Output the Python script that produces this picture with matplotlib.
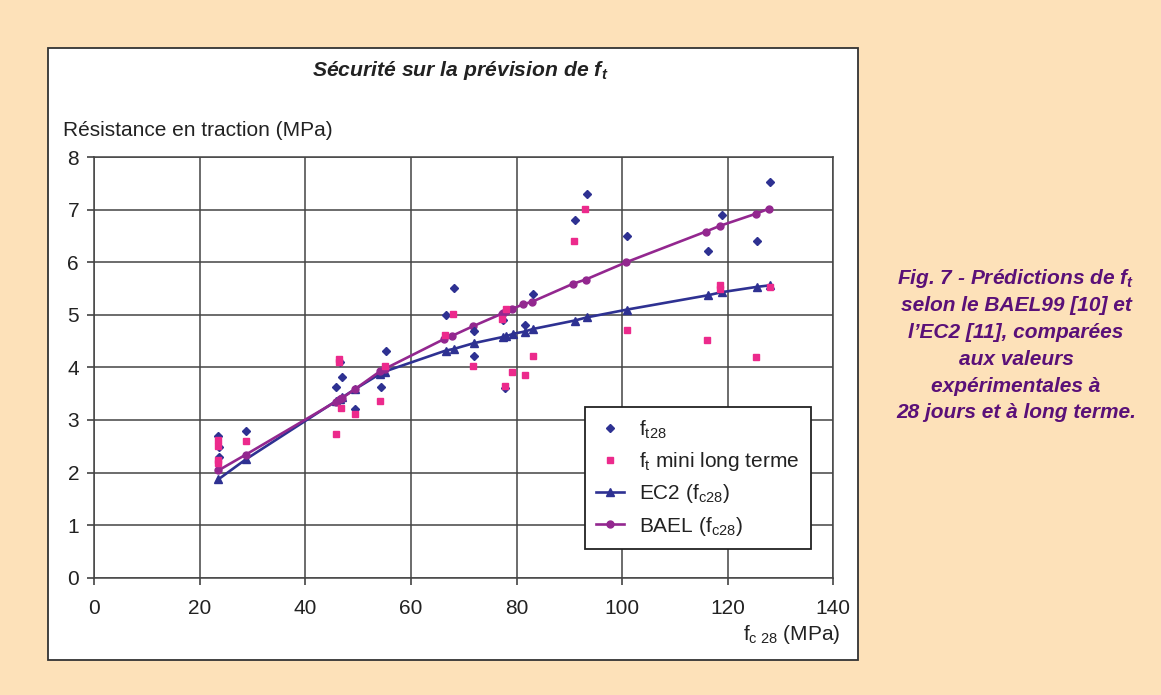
import matplotlib.pyplot as plt
from matplotlib.patches import Rectangle

plt.rcParams['font.family'] = ['Liberation Sans', 'DejaVu Sans']
plt.rcParams['mathtext.fontset'] = 'custom'
plt.rcParams['mathtext.rm'] = 'Liberation Sans'
plt.rcParams['mathtext.it'] = 'Liberation Sans:italic'
plt.rcParams['mathtext.bf'] = 'Liberation Sans:bold'
plt.rcParams['mathtext.bfit'] = 'Liberation Sans:italic:bold'
plt.rcParams['mathtext.default'] = 'regular'

# f_t28 mesures (losanges)
ft28_fc = [23.4, 23.6, 23.6, 28.7, 46.6, 46.9, 45.7, 49.4, 55.2, 54.3, 68.1, 66.6,
           71.9, 71.9, 77.5, 77.8, 81.5, 83.1, 93.3, 91.0, 101.0, 128.1, 118.9, 116.2, 125.5]
ft28_val = [2.70, 2.48, 2.29, 2.79, 4.11, 3.82, 3.62, 3.21, 4.32, 3.62, 5.51, 5.00,
            4.70, 4.21, 4.90, 3.60, 4.80, 5.40, 7.30, 6.81, 6.50, 7.52, 6.90, 6.21, 6.40]

# f_t mini long terme (carres)
ftlt_fc = [23.5, 23.5, 23.5, 23.5, 28.7, 46.4, 46.4, 46.8, 45.7, 49.3, 55.0, 54.1,
           68.0, 66.4, 71.7, 78.0, 77.2, 77.8, 79.2, 83.1, 81.5, 93.0, 90.8, 101.0,
           118.6, 118.6, 128.0, 116.0, 125.4]
ftlt_val = [2.61, 2.50, 2.23, 2.18, 2.60, 4.16, 4.11, 3.23, 2.73, 3.12, 4.02, 3.36,
            5.01, 4.62, 4.02, 5.11, 4.92, 3.64, 3.92, 4.21, 3.85, 7.02, 6.41, 4.71,
            5.56, 5.49, 5.53, 4.52, 4.20]

# EC2 (fc28)
ec2_fc = [23.5, 28.7, 45.8, 46.5, 47.0, 49.3, 54.2, 55.0, 66.6, 68.1, 71.9, 77.5, 78.0,
          79.4, 81.5, 83.1, 91.0, 93.3, 101.0, 116.2, 118.9, 125.5, 128.0]
ec2_val = [1.87, 2.25, 3.36, 3.40, 3.43, 3.58, 3.88, 3.92, 4.32, 4.35, 4.46, 4.58, 4.59,
           4.64, 4.68, 4.73, 4.89, 4.95, 5.10, 5.37, 5.43, 5.53, 5.56]

# BAEL (fc28)
bael_fc = [23.5, 28.7, 45.8, 46.5, 47.0, 49.3, 54.2, 55.0, 66.3, 67.8, 71.7, 77.2, 77.5,
           78.0, 79.1, 81.3, 83.0, 90.7, 93.1, 100.8, 115.8, 118.5, 125.3, 127.9]
bael_val = [2.04, 2.34, 3.35, 3.39, 3.42, 3.58, 3.93, 3.97, 4.54, 4.60, 4.78, 5.02, 5.04,
            5.08, 5.11, 5.20, 5.25, 5.59, 5.67, 6.00, 6.58, 6.69, 6.92, 7.02]

xticks = [0, 20, 40, 60, 80, 100, 120, 140]
yticks = [0, 1, 2, 3, 4, 5, 6, 7, 8]

navy = '#2e3192'
purple = '#93278f'
pink = '#ec2a8c'

fig = plt.figure(figsize=(11.61, 6.95), dpi=100)
fig.patch.set_facecolor('#fde1b9')
fig.patches.append(Rectangle((47.5 / 1161, 1 - 659.5 / 695), 810 / 1161, 612 / 695,
                             transform=fig.transFigure, facecolor='white',
                             edgecolor='#333333', linewidth=1.3, zorder=-5))

ax = fig.add_axes([94.3 / 1161, 1 - 577.7 / 695, 739 / 1161, 420.7 / 695])
ax.set_facecolor('white')

ax.plot(ec2_fc, ec2_val, color=navy, lw=1.9, marker='^', ms=6, label='EC2 (f$_{c28}$)', zorder=3)
ax.plot(bael_fc, bael_val, color=purple, lw=1.9, marker='o', ms=5, label='BAEL (f$_{c28}$)', zorder=4)
ax.plot(ft28_fc, ft28_val, ls='none', marker='D', ms=3.8, color=navy, label='f$_{t28}$', zorder=5)
ax.plot(ftlt_fc, ftlt_val, ls='none', marker='s', ms=3.8, color=pink, label='f$_{t}$ mini long terme', zorder=5)

ax.set_xlim(0, 140)
ax.set_ylim(0, 8)
ax.set_xticks(xticks)
ax.set_yticks(yticks)
ax.grid(True, color='#444444', lw=1.1)
ax.set_axisbelow(True)
for s in ax.spines.values():
    s.set_color('#444444')
    s.set_linewidth(1.1)
ax.tick_params(axis='x', direction='out', length=5, width=1.1, color='#333333', labelsize=15,
               labelcolor='#222222', pad=10)
ax.tick_params(axis='y', direction='out', length=5, width=1.1, color='#333333', labelsize=15,
               labelcolor='#222222', pad=6)

h, l = ax.get_legend_handles_labels()
order = [2, 3, 0, 1]
leg = ax.legend([h[i] for i in order], [l[i] for i in order], loc='upper left',
                bbox_to_anchor=(0.664, 0.406), fontsize=15, frameon=True, fancybox=False,
                edgecolor='#222222', numpoints=1, handlelength=1.3, handletextpad=0.75,
                labelspacing=0.45, borderpad=0.55, borderaxespad=0, framealpha=1)
leg.get_frame().set_linewidth(1.3)
for t in leg.get_texts():
    t.set_color('#222222')

fig.text(0.396, 0.899, 'Sécurité sur la prévision de f$_{\\mathbfit{t}}$', ha='center', va='center',
         fontsize=15.2, fontweight='bold', fontstyle='italic', color='#222222')
fig.text(63 / 1161, 1 - 130 / 695, 'Résistance en traction (MPa)', ha='left', va='center',
         fontsize=15, color='#222222')
fig.text(840 / 1161, 1 - 635 / 695, 'f$_{c\\ 28}$ (MPa)', ha='right', va='center',
         fontsize=15, color='#222222')

caption = ['Fig. 7 - Prédictions de f$_{\\mathbfit{t}}$', 'selon le BAEL99 [10] et',
           'l\u2019EC2 [11], comparées', 'aux valeurs', 'expérimentales à',
           '28 jours et à long terme.']
for i, line in enumerate(caption):
    fig.text(1016 / 1161, 1 - (279 + 26.8 * i) / 695, line, ha='center', va='center',
             fontsize=15, fontweight='bold', fontstyle='italic', color='#5a1078')

fig.savefig('out.png', dpi=100, facecolor=fig.get_facecolor())
